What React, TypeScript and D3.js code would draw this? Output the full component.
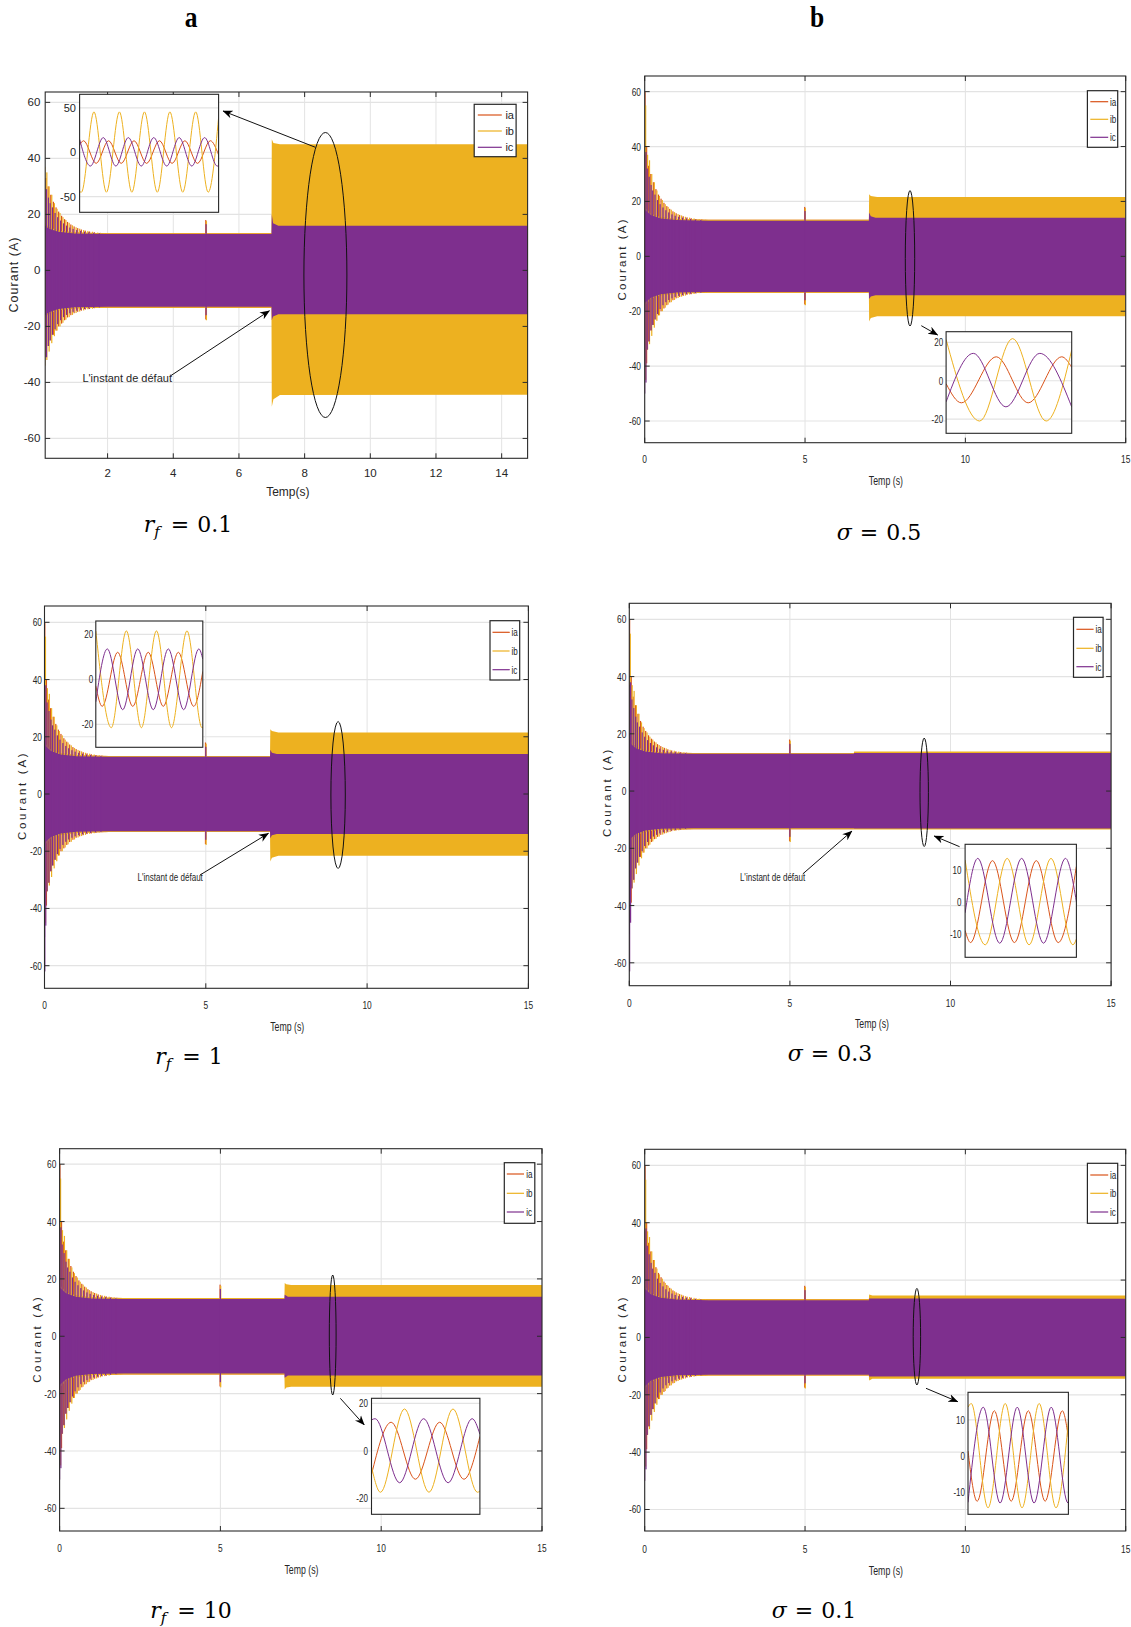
import React from "react";
import * as d3 from "d3";

type Env = [number, number, number][]; // [time, max, min]
type Pt = [number, number][];

const PHASE_NAMES = ["ia", "ib", "ic"];
const PHASE_COLORS = ["#D95319", "#EDB120", "#7E2F8E"];

const Y_TICKS = [-60, -40, -20, 0, 20, 40, 60];
const X_TICKS_A1 = [2, 4, 6, 8, 10, 12, 14];
const X_TICKS = [0, 5, 10, 15];

// ---- start-up transient streaks (same machine start in every run) ----
const STARTUP_IA: Env = [
  [0.01, 60, -38], [0.06, 40, -39], [0.12, 33, -31], [0.19, 30, -27], [0.27, 27, -25],
  [0.35, 24.5, -23], [0.43, 22.5, -21.5], [0.51, 21, -20], [0.6, 19.5, -19], [0.69, 18.3, -17.8],
  [0.78, 17.3, -16.8], [0.88, 16.4, -16], [0.98, 15.7, -15.3], [1.09, 15.1, -14.8], [1.2, 14.6, -14.4],
  [1.32, 14.2, -14], [1.45, 13.9, -13.8], [1.6, 13.6, -13.5], [1.78, 13.4, -13.3],
];
const STARTUP_IB: Env = [
  [0.03, 55, -45], [0.09, 37, -34], [0.15, 35, -32], [0.22, 30, -29], [0.3, 27, -26],
  [0.38, 24, -23.5], [0.46, 22, -21.5], [0.55, 20.5, -20], [0.64, 19, -18.7], [0.73, 18, -17.6],
  [0.83, 17, -16.7], [0.93, 16.1, -15.9], [1.04, 15.4, -15.2], [1.15, 14.9, -14.7], [1.27, 14.4, -14.3],
  [1.4, 14.1, -13.9], [1.54, 13.8, -13.7], [1.7, 13.5, -13.4], [1.9, 13.3, -13.3],
];
const STARTUP_IC: Env = [
  [0.0, 37, -50], [0.04, 38, -46], [0.08, 32, -34], [0.14, 29, -31], [0.2, 26, -27],
  [0.25, 24, -25], [0.32, 22.5, -23], [0.4, 20.5, -21], [0.48, 19, -19.2], [0.57, 17.8, -17.8],
  [0.66, 16.8, -16.7], [0.75, 16, -15.9], [0.85, 15.3, -15.3], [0.95, 14.8, -14.8], [1.06, 14.4, -14.4],
  [1.18, 14.1, -14.1], [1.3, 13.8, -13.8], [1.43, 13.6, -13.6], [1.58, 13.4, -13.4], [1.75, 13.2, -13.2],
];
const A2_START_IC_EXTRA: Env = [[0.01, 20, -62]];
const B2_START_IC_EXTRA: Env = [[0.01, 20, -63]];

// ---- steady envelope before the fault ----
const PRE_IA: Env = [[0, 18, -18], [0.2, 15.5, -15.5], [0.5, 14.2, -14.2], [1.0, 13.5, -13.5], [2, 13.3, -13.3], [6.99, 13.3, -13.3]];
const PRE_IB: Env = [[0, 18, -18], [0.2, 15.5, -15.5], [0.5, 14.2, -14.2], [1.0, 13.5, -13.5], [2, 13.3, -13.3], [6.99, 13.3, -13.3]];
const PRE_IC: Env = [[0, 17, -17], [0.2, 15, -15], [0.5, 13.8, -13.8], [1.0, 13.2, -13.2], [2, 13, -13], [6.99, 13, -13]];

// ---- disturbance at t = 5 s ----
const DIST5_IA: Env = [[4.99, 18, -17.5]];
const DIST5_IB: Env = [[5.01, 17.6, -17.8]];
const DIST5_IC: Env = [[5.0, 16.5, -16]];

// ---- post-fault envelopes ----
const A1_POST_IA: Env = [[7.0, 13, -13], [14.8, 13, -13]];
const A1_POST_IB: Env = [[7.0, 46.8, -48.7], [7.05, 45.5, -46], [7.25, 45, -44.5], [14.8, 45, -44.4]];
const A1_POST_IC: Env = [[7.0, 20, -17.8], [7.04, 16.8, -16.5], [7.2, 15.9, -15.7], [14.8, 15.9, -15.7]];

const B1_POST_IA: Env = [[7, 12.5, -12.5], [15, 12.5, -12.5]];
const B1_POST_IB: Env = [[7, 22.6, -23.7], [7.05, 22, -22.5], [7.25, 21.6, -21.8], [15, 21.6, -21.8]];
const B1_POST_IC: Env = [[7, 16, -15.5], [7.05, 14.6, -14.6], [7.2, 14.1, -14.2], [15, 14.1, -14.2]];

const A2_POST_IA: Env = [[7, 12.5, -12.5], [15, 12.5, -12.5]];
const A2_POST_IB: Env = [[7, 22.6, -23.6], [7.05, 22, -22.3], [7.25, 21.5, -21.6], [15, 21.5, -21.6]];
const A2_POST_IC: Env = [[7, 15.5, -15.5], [7.05, 14.4, -14.4], [7.2, 14, -14], [15, 14, -14]];

const B2_POST_IA: Env = [[7, 13, -13], [15, 13, -13]];
const B2_POST_IB: Env = [[7, 13.8, -13.4], [15, 13.8, -13.4]];
const B2_POST_IC: Env = [[7, 13.3, -13.1], [15, 13.3, -13.1]];

const A3_POST_IA: Env = [[7, 12.5, -12.5], [15, 12.5, -12.5]];
const A3_POST_IB: Env = [[7, 18.6, -18.6], [7.05, 18.1, -17.9], [7.2, 17.9, -17.6], [15, 17.9, -17.6]];
const A3_POST_IC: Env = [[7, 14.5, -14.5], [7.1, 13.8, -13.7], [15, 13.8, -13.7]];

const B3_POST_IA: Env = [[7, 13, -13], [15, 13, -13]];
const B3_POST_IB: Env = [[7, 15, -15], [7.1, 14.6, -14.4], [15, 14.6, -14.4]];
const B3_POST_IC: Env = [[7, 13.6, -13.6], [15, 13.5, -13.5]];

// ---- zoomed insets (time in ms, current in A) ----
const A1_INSET_IA: Pt = [[0, 8], [3.1, 13], [13.0, -12.5], [22.8, 13], [32.7, -12.5], [42.8, 13], [52.7, -12.5], [62.8, 13], [72.7, -12.5], [82.8, 13], [92.7, -12.5], [102.8, 13], [109.3, -3]];
const A1_INSET_IB: Pt = [[0, -44], [1.4, -45], [11.3, 45.5], [21.1, -45], [31.3, 45.5], [41.1, -45], [51.0, 45.5], [61.1, -45], [71.0, 45.5], [81.1, -45], [91.3, 45.5], [101.1, -45], [109.3, 39]];
const A1_INSET_IC: Pt = [[0, 14.6], [8.5, -15.5], [18.6, 16.5], [28.5, -15.5], [38.3, 16.5], [48.5, -15.5], [58.3, 16.5], [68.5, -15.5], [78.3, 16.5], [88.2, -15.5], [98.3, 16.5], [108.2, -15.5], [109.3, -15.4]];

const B1_INSET_IA: Pt = [[0, -1.5], [4.6, -11.5], [15.1, 12.5], [24.7, -11.5], [34.8, 12.5], [37.8, 7]];
const B1_INSET_IB: Pt = [[0, 21.5], [10.1, -21], [20, 22], [30.1, -21], [37.8, 16]];
const B1_INSET_IC: Pt = [[0, -11], [8.2, 14.3], [18, -13.6], [28.2, 14.3], [37.8, -13.6]];

const A2_INSET_IA: Pt = [[0, -3], [4.2, -12], [14.4, 12], [24.3, -12], [34.5, 12], [44.4, -12], [54.3, 12], [64.4, -12], [70.4, 3.5]];
const A2_INSET_IB: Pt = [[0, 21.5], [10.2, -21.5], [20.1, 21.5], [30, -21.5], [39.9, 21.5], [49.8, -21.5], [60, 21.5], [69.9, -21.5], [70.4, -21.4]];
const A2_INSET_IC: Pt = [[0, -10], [7.6, 13.5], [17.7, -13.5], [27.6, 13.5], [37.8, -13.5], [47.7, 13.5], [57.8, -13.5], [67.8, 13.5], [70.4, 9]];

const B2_INSET_IA: Pt = [[0, -9], [2.5, -12.8], [12.5, 12.8], [22.5, -12.8], [32.5, 12.8], [42.5, -12.8], [50.8, 11]];
const B2_INSET_IB: Pt = [[0, 13], [9.2, -13.5], [19.2, 13.5], [29.2, -13.5], [39.2, 13.5], [49.2, -13.5], [50.8, -11.7]];
const B2_INSET_IC: Pt = [[0, -3.5], [5.8, 13.5], [15.8, -13], [25.8, 13.5], [35.8, -13], [45.8, 13.5], [50.8, 0]];

const A3_INSET_IA: Pt = [[0, -10], [8.1, 12], [18.1, -12], [28.1, 12], [38.1, -12], [44.7, 6]];
const A3_INSET_IB: Pt = [[0, -6.8], [3.7, -17.5], [13.6, 17.6], [23.7, -17.5], [33.6, 17.6], [43.7, -17.5], [44.7, -17]];
const A3_INSET_IC: Pt = [[0, 13], [1.5, 13.5], [11.6, -13.5], [21.5, 13.5], [31.6, -13.5], [41.5, 13.5], [44.7, 7]];

const B3_INSET_IA: Pt = [[0, 1.4], [5.4, -12.5], [15.5, 12.5], [25.4, -12.5], [35.5, 12.5], [45.4, -12.5], [55.5, 12.5], [59.1, 5.1]];
const B3_INSET_IB: Pt = [[0, 13.5], [1.9, 14.5], [11.8, -14.3], [21.9, 14.5], [31.8, -14.3], [41.9, 14.5], [51.8, -14.3], [59.1, 9.6]];
const B3_INSET_IC: Pt = [[0, -12.8], [9, 13.5], [18.9, -13], [29, 13.5], [38.9, -13], [49, 13.5], [58.9, -13], [59.1, -13]];

const ANNOTATION = "L'instant de défaut";

// ---------------------------------------------------------------------------

const SANS = "'Liberation Sans', Arial, Helvetica, sans-serif";
const TXT = "#262626";

interface Frame { x0: number; x1: number; y0: number; y1: number }
interface PanelCfg {
  id: string;
  frame: Frame;
  xDomain: [number, number];
  yDomain: [number, number];
  xTicks: number[];
  sx: number;
  yTickRight: number;
  xTickBase: number;
  yLabel: { x: number; y: number; len: number };
  xLabel: { text: string; x: number; y: number };
  legend: { x0: number; x1: number; y0: number; y1: number; rows: number[]; l0: number; l1: number; tx: number };
  envs: Env[];
  streaks: Env[];
  ellipse: { cx: number; cy: number; rx: number; ry: number };
  arrows: { x1: number; y1: number; x2: number; y2: number }[];
  annotation?: { x: number; y: number };
  inset: { frame: Frame; xDomain: [number, number]; yDomain: [number, number]; ticks: number[]; labelRight: number; series: Pt[] };
  caption: { sym: "rf" | "sigma"; value: string; cx: number; y: number };
}

const PANELS: PanelCfg[] = [
  {
    id: "a1",
    frame: { x0: 45.2, x1: 527.6, y0: 92, y1: 458.3 },
    xDomain: [0.1, 14.79], yDomain: [-67.1, 63.7], xTicks: X_TICKS_A1, sx: 1,
    yTickRight: 40.3, xTickBase: 476.9,
    yLabel: { x: 14.3, y: 275, len: 75 },
    xLabel: { text: "Temp(s)", x: 287.8, y: 496.3 },
    legend: { x0: 474.2, x1: 516.1, y0: 104.3, y1: 156.7, rows: [115, 131, 147.3], l0: 477.8, l1: 501.8, tx: 505.4 },
    envs: [PRE_IA.concat(A1_POST_IA), PRE_IB.concat(A1_POST_IB), PRE_IC.concat(A1_POST_IC)],
    streaks: [STARTUP_IA.concat(DIST5_IA), STARTUP_IB.concat(DIST5_IB), STARTUP_IC.concat(DIST5_IC)],
    ellipse: { cx: 325.4, cy: 275, rx: 21.5, ry: 142.5 },
    arrows: [{ x1: 315.4, y1: 147.3, x2: 223, y2: 111 }, { x1: 170.3, y1: 376, x2: 269.5, y2: 310.7 }],
    annotation: { x: 82.4, y: 382 },
    inset: { frame: { x0: 79.6, x1: 218.6, y0: 94.3, y1: 212.3 }, xDomain: [0, 109.3], yDomain: [-67.6, 65.3], ticks: [-50, 0, 50], labelRight: 76, series: [A1_INSET_IA, A1_INSET_IB, A1_INSET_IC] },
    caption: { sym: "rf", value: "0.1", cx: 188, y: 532 },
  },
  {
    id: "b1",
    frame: { x0: 644.7, x1: 1125.7, y0: 76, y1: 442.7 },
    xDomain: [0, 15], yDomain: [-67.9, 65.7], xTicks: X_TICKS, sx: 0.73,
    yTickRight: 641, xTickBase: 462.5,
    yLabel: { x: 622, y: 260, len: 81 },
    xLabel: { text: "Temp (s)", x: 885.9, y: 484.7 },
    legend: { x0: 1087.4, x1: 1117.7, y0: 90.7, y1: 147.3, rows: [101.7, 119.3, 137.3], l0: 1090.3, l1: 1108.2, tx: 1110 },
    envs: [PRE_IA.concat(B1_POST_IA), PRE_IB.concat(B1_POST_IB), PRE_IC.concat(B1_POST_IC)],
    streaks: [STARTUP_IA.concat(DIST5_IA), STARTUP_IB.concat(DIST5_IB), STARTUP_IC.concat(DIST5_IC)],
    ellipse: { cx: 910, cy: 258.3, rx: 4.7, ry: 67.7 },
    arrows: [{ x1: 921.3, y1: 325.7, x2: 937.7, y2: 335 }],
    inset: { frame: { x0: 946.1, x1: 1071.7, y0: 331.7, y1: 433.3 }, xDomain: [0, 37.8], yDomain: [-27.4, 25.6], ticks: [-20, 0, 20], labelRight: 943.2, series: [B1_INSET_IA, B1_INSET_IB, B1_INSET_IC] },
    caption: { sym: "sigma", value: "0.5", cx: 879, y: 540 },
  },
  {
    id: "a2",
    frame: { x0: 44.5, x1: 528.4, y0: 606, y1: 988.3 },
    xDomain: [0, 15], yDomain: [-67.9, 65.7], xTicks: X_TICKS, sx: 0.73,
    yTickRight: 42, xTickBase: 1009.2,
    yLabel: { x: 22.3, y: 796.7, len: 86.7 },
    xLabel: { text: "Temp (s)", x: 287.2, y: 1031.3 },
    legend: { x0: 490, x1: 519.7, y0: 620.7, y1: 680, rows: [632.3, 651, 669.7], l0: 492.5, l1: 509.7, tx: 511.5 },
    envs: [PRE_IA.concat(A2_POST_IA), PRE_IB.concat(A2_POST_IB), PRE_IC.concat(A2_POST_IC)],
    streaks: [STARTUP_IA.concat(DIST5_IA), STARTUP_IB.concat(DIST5_IB), STARTUP_IC.concat(DIST5_IC, A2_START_IC_EXTRA)],
    ellipse: { cx: 338.1, cy: 795, rx: 7.2, ry: 73.5 },
    arrows: [{ x1: 200, y1: 875, x2: 268.5, y2: 833.3 }],
    annotation: { x: 137.5, y: 881 },
    inset: { frame: { x0: 95.8, x1: 202.8, y0: 621, y1: 747.3 }, xDomain: [0, 70.4], yDomain: [-30.2, 25.9], ticks: [-20, 0, 20], labelRight: 93.3, series: [A2_INSET_IA, A2_INSET_IB, A2_INSET_IC] },
    caption: { sym: "rf", value: "1", cx: 189, y: 1064 },
  },
  {
    id: "b2",
    frame: { x0: 629.3, x1: 1111.1, y0: 603.3, y1: 985.7 },
    xDomain: [0, 15], yDomain: [-68, 65.6], xTicks: X_TICKS, sx: 0.73,
    yTickRight: 626.4, xTickBase: 1006.5,
    yLabel: { x: 607.4, y: 793.3, len: 87.3 },
    xLabel: { text: "Temp (s)", x: 872, y: 1028 },
    legend: { x0: 1073.5, x1: 1103.1, y0: 617.3, y1: 677.3, rows: [629.3, 648.3, 666.7], l0: 1076.4, l1: 1093.6, tx: 1095.4 },
    envs: [PRE_IA.concat(B2_POST_IA), PRE_IB.concat(B2_POST_IB), PRE_IC.concat(B2_POST_IC)],
    streaks: [STARTUP_IA.concat(DIST5_IA), STARTUP_IB.concat(DIST5_IB), STARTUP_IC.concat(DIST5_IC, B2_START_IC_EXTRA)],
    ellipse: { cx: 924.2, cy: 792.3, rx: 4.2, ry: 54.2 },
    arrows: [{ x1: 959.6, y1: 846.7, x2: 934.1, y2: 836 }, { x1: 802.7, y1: 874, x2: 852, y2: 831 }],
    annotation: { x: 739.9, y: 881 },
    inset: { frame: { x0: 965.1, x1: 1076.4, y0: 844.3, y1: 957.3 }, xDomain: [0, 50.8], yDomain: [-17.4, 17.9], ticks: [-10, 0, 10], labelRight: 961.5, series: [B2_INSET_IA, B2_INSET_IB, B2_INSET_IC] },
    caption: { sym: "sigma", value: "0.3", cx: 830, y: 1061 },
  },
  {
    id: "a3",
    frame: { x0: 59.6, x1: 542, y0: 1148.7, y1: 1531 },
    xDomain: [0, 15], yDomain: [-67.9, 65.4], xTicks: X_TICKS, sx: 0.73,
    yTickRight: 56.4, xTickBase: 1551.5,
    yLabel: { x: 37, y: 1340, len: 85.7 },
    xLabel: { text: "Temp (s)", x: 301.5, y: 1574 },
    legend: { x0: 504.3, x1: 534.8, y0: 1162.7, y1: 1223.3, rows: [1174, 1193.3, 1212], l0: 506.8, l1: 524, tx: 526.2 },
    envs: [PRE_IA.concat(A3_POST_IA), PRE_IB.concat(A3_POST_IB), PRE_IC.concat(A3_POST_IC)],
    streaks: [STARTUP_IA.concat(DIST5_IA), STARTUP_IB.concat(DIST5_IB), STARTUP_IC.concat(DIST5_IC)],
    ellipse: { cx: 332.7, cy: 1335, rx: 3.4, ry: 60 },
    arrows: [{ x1: 340.3, y1: 1398.3, x2: 364.3, y2: 1425 }],
    inset: { frame: { x0: 371.5, x1: 479.9, y0: 1398.3, y1: 1514.3 }, xDomain: [0, 44.7], yDomain: [-26.8, 22.1], ticks: [-20, 0, 20], labelRight: 367.9, series: [A3_INSET_IA, A3_INSET_IB, A3_INSET_IC] },
    caption: { sym: "rf", value: "10", cx: 191, y: 1618 },
  },
  {
    id: "b3",
    frame: { x0: 644.7, x1: 1125.7, y0: 1149.3, y1: 1531 },
    xDomain: [0, 15], yDomain: [-67.5, 65.6], xTicks: X_TICKS, sx: 0.73,
    yTickRight: 641, xTickBase: 1552.5,
    yLabel: { x: 622, y: 1340, len: 85 },
    xLabel: { text: "Temp (s)", x: 885.9, y: 1574.7 },
    legend: { x0: 1087.4, x1: 1117.7, y0: 1163.3, y1: 1223.3, rows: [1175, 1193.3, 1212], l0: 1090.3, l1: 1108.2, tx: 1110 },
    envs: [PRE_IA.concat(B3_POST_IA), PRE_IB.concat(B3_POST_IB), PRE_IC.concat(B3_POST_IC)],
    streaks: [STARTUP_IA.concat(DIST5_IA), STARTUP_IB.concat(DIST5_IB), STARTUP_IC.concat(DIST5_IC)],
    ellipse: { cx: 916.9, cy: 1336.7, rx: 3.7, ry: 48.3 },
    arrows: [{ x1: 926, y1: 1388.3, x2: 957.8, y2: 1401.7 }],
    inset: { frame: { x0: 968, x1: 1068.4, y0: 1392.3, y1: 1514.3 }, xDomain: [0, 59.1], yDomain: [-16.1, 17.6], ticks: [-10, 0, 10], labelRight: 965, series: [B3_INSET_IA, B3_INSET_IB, B3_INSET_IC] },
    caption: { sym: "sigma", value: "0.1", cx: 814, y: 1618 },
  },
];

function T(props: { x: number; y: number; sx?: number; anchor?: string; size?: number; children: React.ReactNode }) {
  const { x, y, sx = 1, anchor = "middle", size = 11.5, children } = props;
  return (
    <text transform={`translate(${x},${y}) scale(${sx},1)`} textAnchor={anchor} fontSize={size} fontFamily={SANS} fill={TXT}>
      {children}
    </text>
  );
}

function Panel({ p }: { p: PanelCfg }) {
  const f = p.frame;
  const x = d3.scaleLinear().domain(p.xDomain).range([f.x0, f.x1]);
  const y = d3.scaleLinear().domain(p.yDomain).range([f.y1, f.y0]);
  const area = d3.area<[number, number, number]>().x((d) => x(d[0])).y0((d) => y(d[2])).y1((d) => y(d[1]));
  const clipId = `clip-${p.id}`;
  const insetClip = `iclip-${p.id}`;
  const xt = p.xTicks.filter((t) => t >= p.xDomain[0] && t <= p.xDomain[1]);

  const ins = p.inset;
  const ix = d3.scaleLinear().domain(ins.xDomain).range([ins.frame.x0, ins.frame.x1]);
  const iy = d3.scaleLinear().domain(ins.yDomain).range([ins.frame.y1, ins.frame.y0]);
  const line = d3.line<[number, number]>().x((d) => ix(d[0])).y((d) => iy(d[1])).curve(d3.curveMonotoneX);

  return (
    <g>
      <defs>
        <clipPath id={clipId}>
          <rect x={f.x0} y={f.y0} width={f.x1 - f.x0} height={f.y1 - f.y0} />
        </clipPath>
        <clipPath id={insetClip}>
          <rect x={ins.frame.x0} y={ins.frame.y0} width={ins.frame.x1 - ins.frame.x0} height={ins.frame.y1 - ins.frame.y0} />
        </clipPath>
      </defs>
      <rect x={f.x0} y={f.y0} width={f.x1 - f.x0} height={f.y1 - f.y0} fill="#fff" />
      {xt.map((t) => (
        <line key={`gx${t}`} x1={x(t)} x2={x(t)} y1={f.y0} y2={f.y1} stroke="#e3e3e3" strokeWidth={1} />
      ))}
      {Y_TICKS.map((t) => (
        <line key={`gy${t}`} x1={f.x0} x2={f.x1} y1={y(t)} y2={y(t)} stroke="#e3e3e3" strokeWidth={1.2} />
      ))}
      <g clipPath={`url(#${clipId})`}>
        {[0, 1, 2].map((i) => (
          <g key={`ph${i}`}>
            <path d={area(p.envs[i]) || ""} fill={PHASE_COLORS[i]} />
            {p.streaks[i].map((s, k) => (
              <rect key={k} x={x(s[0]) - 0.6} width={1.2} y={y(s[1])} height={y(s[2]) - y(s[1])} fill={PHASE_COLORS[i]} />
            ))}
          </g>
        ))}
      </g>
      <rect x={f.x0} y={f.y0} width={f.x1 - f.x0} height={f.y1 - f.y0} fill="none" stroke="#2b2b2b" strokeWidth={1.1} />
      {xt.map((t) => (
        <g key={`tx${t}`}>
          <line x1={x(t)} x2={x(t)} y1={f.y1} y2={f.y1 - 5} stroke="#2b2b2b" />
          <line x1={x(t)} x2={x(t)} y1={f.y0} y2={f.y0 + 5} stroke="#2b2b2b" />
          <T x={x(t)} y={p.xTickBase} sx={p.sx}>{t}</T>
        </g>
      ))}
      {Y_TICKS.map((t) => (
        <g key={`ty${t}`}>
          <line x1={f.x0} x2={f.x0 + 5} y1={y(t)} y2={y(t)} stroke="#2b2b2b" />
          <line x1={f.x1} x2={f.x1 - 5} y1={y(t)} y2={y(t)} stroke="#2b2b2b" />
          <T x={p.yTickRight} y={y(t) + 4} sx={p.sx} anchor="end">{t}</T>
        </g>
      ))}
      <T x={p.xLabel.x} y={p.xLabel.y} sx={p.sx} size={12}>{p.xLabel.text}</T>
      <text
        transform={`translate(${p.yLabel.x},${p.yLabel.y}) rotate(-90)`}
        textAnchor="middle"
        dominantBaseline="central"
        fontSize={p.sx === 1 ? 12.5 : 11.5}
        fontFamily={SANS}
        fill={TXT}
        textLength={p.yLabel.len}
        lengthAdjust="spacing"
      >
        Courant (A)
      </text>
      <rect x={p.legend.x0} y={p.legend.y0} width={p.legend.x1 - p.legend.x0} height={p.legend.y1 - p.legend.y0} fill="#fff" stroke="#262626" strokeWidth={1.2} />
      {PHASE_NAMES.map((n, i) => (
        <g key={n}>
          <line x1={p.legend.l0} x2={p.legend.l1} y1={p.legend.rows[i]} y2={p.legend.rows[i]} stroke={PHASE_COLORS[i]} strokeWidth={1.2} />
          <T x={p.legend.tx} y={p.legend.rows[i] + 4} sx={p.sx} anchor="start" size={11}>{n}</T>
        </g>
      ))}
      <ellipse cx={p.ellipse.cx} cy={p.ellipse.cy} rx={p.ellipse.rx} ry={p.ellipse.ry} fill="none" stroke="#111" strokeWidth={1} />
      {p.arrows.map((a, k) => (
        <line key={k} x1={a.x1} y1={a.y1} x2={a.x2} y2={a.y2} stroke="#111" strokeWidth={1} markerEnd="url(#arrowHead)" />
      ))}
      {p.annotation && (
        <T x={p.annotation.x} y={p.annotation.y} sx={p.sx} anchor="start" size={11}>{ANNOTATION}</T>
      )}
      <rect x={ins.frame.x0} y={ins.frame.y0} width={ins.frame.x1 - ins.frame.x0} height={ins.frame.y1 - ins.frame.y0} fill="#fff" />
      {ins.ticks.map((t) => (
        <line key={`ig${t}`} x1={ins.frame.x0} x2={ins.frame.x1} y1={iy(t)} y2={iy(t)} stroke="#e3e3e3" strokeWidth={1.2} />
      ))}
      <g clipPath={`url(#${insetClip})`}>
        {ins.series.map((s, i) => (
          <path key={i} d={line(s) || ""} fill="none" stroke={PHASE_COLORS[i]} strokeWidth={1} />
        ))}
      </g>
      <rect x={ins.frame.x0} y={ins.frame.y0} width={ins.frame.x1 - ins.frame.x0} height={ins.frame.y1 - ins.frame.y0} fill="none" stroke="#262626" strokeWidth={1.1} />
      {ins.ticks.map((t) => (
        <T key={`it${t}`} x={ins.labelRight} y={iy(t) + 4} sx={p.sx} anchor="end" size={11}>{t}</T>
      ))}
      <text x={p.caption.cx} y={p.caption.y} textAnchor="middle" fontFamily="'DejaVu Serif', 'Liberation Serif', serif" fontSize={22} fill="#000">
        {p.caption.sym === "rf" ? (
          <>
            <tspan fontStyle="italic">r</tspan>
            <tspan fontStyle="italic" fontSize={15} dy={5}>f</tspan>
            <tspan dy={-5} dx={11}>=</tspan>
            <tspan dx={8}>{p.caption.value}</tspan>
          </>
        ) : (
          <>
            <tspan fontStyle="italic">σ</tspan>
            <tspan dx={8}>=</tspan>
            <tspan dx={8}>{p.caption.value}</tspan>
          </>
        )}
      </text>
    </g>
  );
}

export default function App() {
  return (
    <div style={{ width: 1131, height: 1627, background: "#fff" }}>
      <style>{`body{margin:0;background:#fff}`}</style>
      <svg width={1131} height={1627} viewBox="0 0 1131 1627" style={{ display: "block" }}>
        <defs>
          <marker id="arrowHead" viewBox="0 0 10 10" refX={9.5} refY={5} markerWidth={10} markerHeight={10} markerUnits="userSpaceOnUse" orient="auto">
            <path d="M0,1 L10,5 L0,9 L3,5 z" fill="#000" />
          </marker>
        </defs>
        <rect x={0} y={0} width={1131} height={1627} fill="#fff" />
        <text transform="translate(191,27) scale(0.85,1)" textAnchor="middle" fontFamily="'Liberation Serif', 'Times New Roman', serif" fontWeight="bold" fontSize={30}>a</text>
        <text transform="translate(817,27) scale(0.85,1)" textAnchor="middle" fontFamily="'Liberation Serif', 'Times New Roman', serif" fontWeight="bold" fontSize={30}>b</text>
        {PANELS.map((p) => (
          <Panel key={p.id} p={p} />
        ))}
      </svg>
    </div>
  );
}
